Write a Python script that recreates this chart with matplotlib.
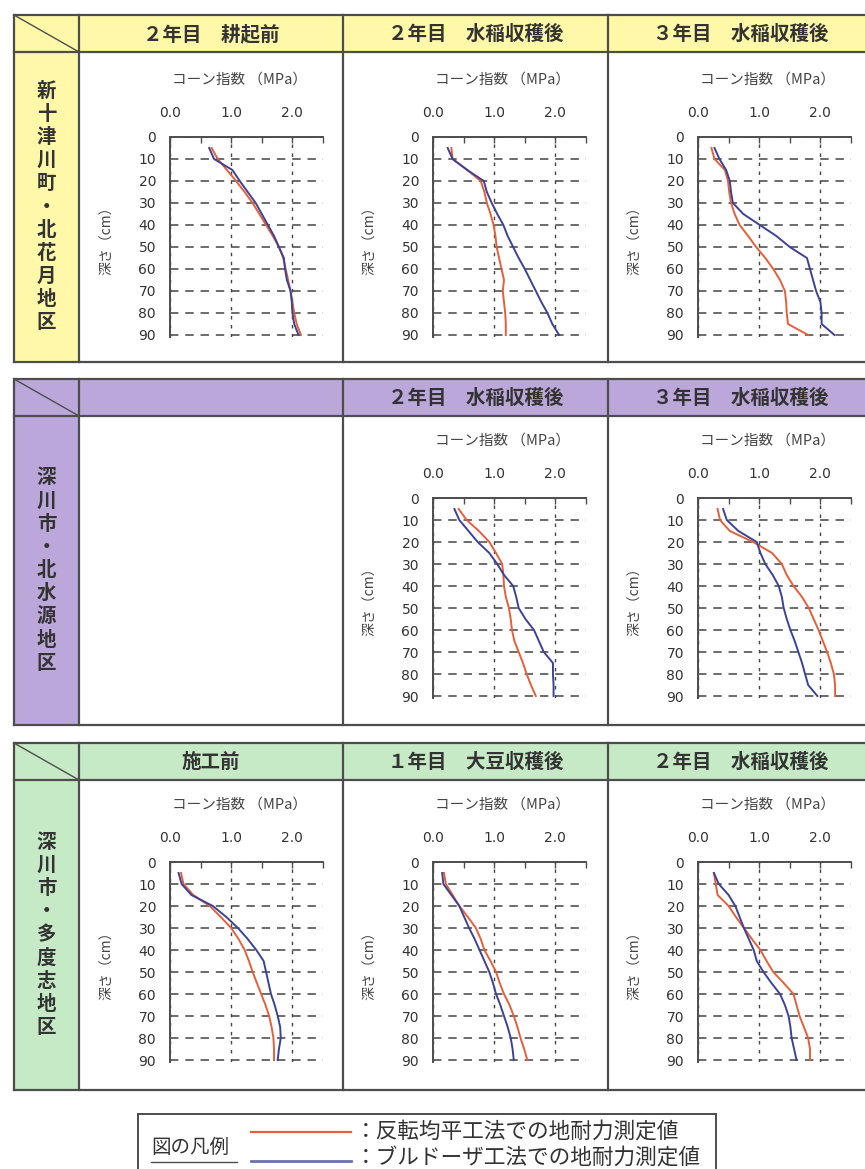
import matplotlib
matplotlib.use('Agg')
import matplotlib.pyplot as plt
from matplotlib.patches import Rectangle

plt.rcParams['font.family'] = ['Noto Sans CJK JP', 'DejaVu Sans']

W, H = 865, 1169

# ---------------- data ----------------
depth = [5, 10, 15, 20, 25, 30, 35, 40, 45, 50, 55, 60, 65, 70, 75, 80, 85, 90]

# Section 1: 新十津川町・北花月地区
a_red  = [0.68, 0.78, 0.93, 1.08, 1.22, 1.35, 1.46, 1.57, 1.68, 1.78, 1.85, 1.89, 1.93, 1.97, 2.00, 2.03, 2.07, 2.14]
a_blue = [0.64, 0.72, 1.02, 1.14, 1.27, 1.40, 1.50, 1.60, 1.70, 1.78, 1.86, 1.88, 1.91, 1.97, 1.99, 2.00, 2.03, 2.10]
b_red  = [0.30, 0.32, 0.56, 0.78, 0.84, 0.88, 0.94, 0.99, 1.02, 1.04, 1.08, 1.12, 1.16, 1.14, 1.16, 1.18, 1.19, 1.19]
b_blue = [0.24, 0.32, 0.56, 0.83, 0.88, 0.96, 1.05, 1.15, 1.22, 1.31, 1.40, 1.50, 1.59, 1.68, 1.77, 1.87, 1.95, 2.06]
c_red  = [0.22, 0.27, 0.44, 0.49, 0.51, 0.54, 0.60, 0.68, 0.82, 0.95, 1.10, 1.23, 1.34, 1.42, 1.44, 1.45, 1.47, 1.80]
c_blue = [0.27, 0.35, 0.46, 0.52, 0.54, 0.57, 0.74, 1.01, 1.28, 1.50, 1.78, 1.83, 1.88, 1.93, 2.00, 2.02, 2.02, 2.23]

# Section 2: 深川市・北水源地区
d_red  = [0.42, 0.55, 0.75, 0.92, 1.03, 1.13, 1.15, 1.16, 1.19, 1.24, 1.27, 1.29, 1.33, 1.40, 1.47, 1.53, 1.60, 1.68]
d_blue = [0.35, 0.43, 0.58, 0.73, 0.92, 1.05, 1.16, 1.31, 1.36, 1.40, 1.51, 1.65, 1.73, 1.81, 1.96, 1.96, 1.97, 1.97]
e_red  = [0.32, 0.36, 0.52, 0.90, 1.21, 1.37, 1.45, 1.56, 1.70, 1.81, 1.89, 1.97, 2.04, 2.11, 2.17, 2.22, 2.24, 2.24]
e_blue = [0.41, 0.47, 0.66, 0.96, 1.02, 1.10, 1.22, 1.32, 1.37, 1.40, 1.45, 1.51, 1.58, 1.64, 1.70, 1.75, 1.80, 1.95]

# Section 3: 深川市・多度志地区
f_red  = [0.18, 0.22, 0.38, 0.65, 0.83, 1.00, 1.12, 1.22, 1.29, 1.35, 1.42, 1.49, 1.56, 1.62, 1.66, 1.69, 1.70, 1.70]
f_blue = [0.14, 0.19, 0.35, 0.70, 0.92, 1.11, 1.27, 1.41, 1.53, 1.57, 1.61, 1.65, 1.71, 1.76, 1.80, 1.81, 1.78, 1.76]
g_red  = [0.18, 0.21, 0.32, 0.43, 0.57, 0.70, 0.78, 0.84, 0.94, 1.03, 1.09, 1.16, 1.25, 1.32, 1.38, 1.43, 1.49, 1.54]
g_blue = [0.15, 0.17, 0.30, 0.43, 0.51, 0.59, 0.68, 0.76, 0.84, 0.92, 0.98, 1.03, 1.10, 1.16, 1.22, 1.27, 1.30, 1.32]
h_red  = [0.26, 0.29, 0.32, 0.50, 0.62, 0.75, 0.88, 1.02, 1.12, 1.23, 1.40, 1.56, 1.61, 1.66, 1.73, 1.80, 1.83, 1.83]
h_blue = [0.26, 0.34, 0.50, 0.61, 0.68, 0.75, 0.83, 0.91, 0.96, 1.07, 1.20, 1.34, 1.42, 1.48, 1.51, 1.53, 1.57, 1.61]

section_labels = ["新十津川町・北花月地区", "深川市・北水源地区", "深川市・多度志地区"]
header_labels = [
    ["２年目　耕起前", "２年目　水稲収穫後", "３年目　水稲収穫後"],
    ["", "２年目　水稲収穫後", "３年目　水稲収穫後"],
    ["施工前", "１年目　大豆収穫後", "２年目　水稲収穫後"],
]
panels = [
    [(a_red, a_blue), (b_red, b_blue), (c_red, c_blue)],
    [None, (d_red, d_blue), (e_red, e_blue)],
    [(f_red, f_blue), (g_red, g_blue), (h_red, h_blue)],
]
xticks = [0.0, 1.0, 2.0]
xtick_labels = ["0.0", "1.0", "2.0"]
yticks = [0, 10, 20, 30, 40, 50, 60, 70, 80, 90]
x_title = "コーン指数 （MPa）"
y_title = "深さ（cm）"
legend_title = "図の凡例"
legend_texts = ["：反転均平工法での地耐力測定値", "：ブルドーザ工法での地耐力測定値"]

# ---------------- styling ----------------
RED = '#E5603A'
BLUE = '#3E4296'
BORDER = '#4d4d4d'
TXT = '#333333'
sec_colors = ['#FFF8A8', '#BBA7DA', '#C6EAC6']

sec_tops = [15, 379, 743]
sec_bots = [362, 725, 1090]
head_h = 37
col_x = [14, 79, 343, 608, 880]
ax_left = [170, 433, 698]
ax_top = [137, 498, 862]
ax_w = 153.0
ax_h = 198.0

fig = plt.figure(figsize=(W / 100, H / 100), dpi=100)
bg = fig.add_axes([0, 0, 1, 1])
bg.set_xlim(0, W)
bg.set_ylim(H, 0)
bg.axis('off')

for s in range(3):
    top, bot = sec_tops[s], sec_bots[s]
    hb = top + head_h
    col = sec_colors[s]
    bg.add_patch(Rectangle((col_x[0], top), col_x[-1] - col_x[0], head_h, facecolor=col, edgecolor='none'))
    bg.add_patch(Rectangle((col_x[0], hb), col_x[1] - col_x[0], bot - hb, facecolor=col, edgecolor='none'))
    lw = 1.6
    bg.plot([col_x[0], col_x[-1]], [top, top], color=BORDER, lw=lw)
    bg.plot([col_x[0], col_x[-1]], [hb, hb], color=BORDER, lw=lw)
    bg.plot([col_x[0], col_x[-1]], [bot, bot], color=BORDER, lw=lw)
    for cx in col_x[:-1]:
        bg.plot([cx, cx], [top, bot], color=BORDER, lw=lw)
    bg.plot([col_x[0], col_x[1]], [top, hb], color=BORDER, lw=1.0)
    for c in range(3):
        if c < 2:
            xc = (col_x[c + 1] + col_x[c + 2]) / 2
        else:
            xc = col_x[3] + 265 / 2
        bg.text(xc, top + head_h / 2 + 1, header_labels[s][c], ha='center', va='center',
                fontsize=14, fontweight='bold', color=TXT)
    lab = section_labels[s]
    n = len(lab)
    yc = (hb + bot) / 2
    step = 23.2
    for i, ch in enumerate(lab):
        bg.text((col_x[0] + col_x[1]) / 2, yc + (i - (n - 1) / 2) * step, ch, ha='center', va='center',
                fontsize=14, fontweight='bold', color=TXT)

# ---------------- charts ----------------
for s in range(3):
    for c in range(3):
        p = panels[s][c]
        if p is None:
            continue
        red, blue = p
        l = ax_left[c]
        t = ax_top[s]
        hh = ax_h * 91 / 90
        ax = fig.add_axes([l / W, 1 - (t + hh) / H, ax_w / W, hh / H])
        ax.patch.set_visible(False)
        ax.plot(red, depth, color=RED, lw=1.4, zorder=3)
        ax.plot(blue, depth, color=BLUE, lw=1.4, zorder=3)
        ax.set_xlim(0, 2.5)
        ax.set_ylim(91, 0)
        ax.xaxis.tick_top()
        ax.set_xticks(xticks)
        ax.set_xticklabels(xtick_labels)
        ax.set_xticks([0.5, 1.5, 2.5], minor=True)
        ax.set_yticks(yticks)
        ax.set_yticklabels([str(v) for v in yticks])
        ax.tick_params(axis='x', which='both', direction='in', length=4, width=1.0, color=BORDER,
                       top=True, bottom=False, labeltop=True, labelbottom=False, pad=12,
                       labelsize=10, labelcolor=TXT)
        ax.tick_params(axis='y', direction='in', length=0, pad=10, labelsize=10, labelcolor=TXT)
        for tl in ax.get_xticklabels() + ax.get_yticklabels():
            tl.set_family('DejaVu Sans')
        ax.spines['right'].set_visible(False)
        ax.spines['bottom'].set_visible(False)
        ax.spines['top'].set_color(BORDER)
        ax.spines['left'].set_color(BORDER)
        ax.spines['top'].set_linewidth(1.4)
        ax.spines['left'].set_linewidth(1.4)
        ax.grid(axis='y', color='#444444', lw=1.1, linestyle=(0, (5.5, 4.5)))
        ax.grid(axis='x', color='#444444', lw=1.0, linestyle=(0, (2.5, 4.0)))
        ax.set_axisbelow(True)
        ax.text(0.455, 1 + 57 / hh, x_title, transform=ax.transAxes, ha='center', va='center',
                fontsize=10.5, color='#444444')
        ax.text(-63 / ax_w, 0.5, y_title, transform=ax.transAxes, ha='center', va='center',
                rotation=90, fontsize=10, color='#444444')

# ---------------- legend ----------------
bg.add_patch(Rectangle((138, 1114), 716 - 138, 80, facecolor='white', edgecolor=BORDER, lw=1.4))
bg.text(151, 1147, legend_title, ha='left', va='center', fontsize=14, color=TXT)
bg.plot([151, 237], [1162, 1162], color=BORDER, lw=1.0)
bg.plot([251, 351], [1132, 1132], color=RED, lw=1.6)
bg.plot([251, 351], [1161, 1161], color='#6A6FB0', lw=2.0)
bg.text(355, 1132, legend_texts[0], ha='left', va='center', fontsize=15.6, color=TXT)
bg.text(355, 1159, legend_texts[1], ha='left', va='center', fontsize=15.6, color=TXT)

fig.savefig('out.png', dpi=100, facecolor='white')
